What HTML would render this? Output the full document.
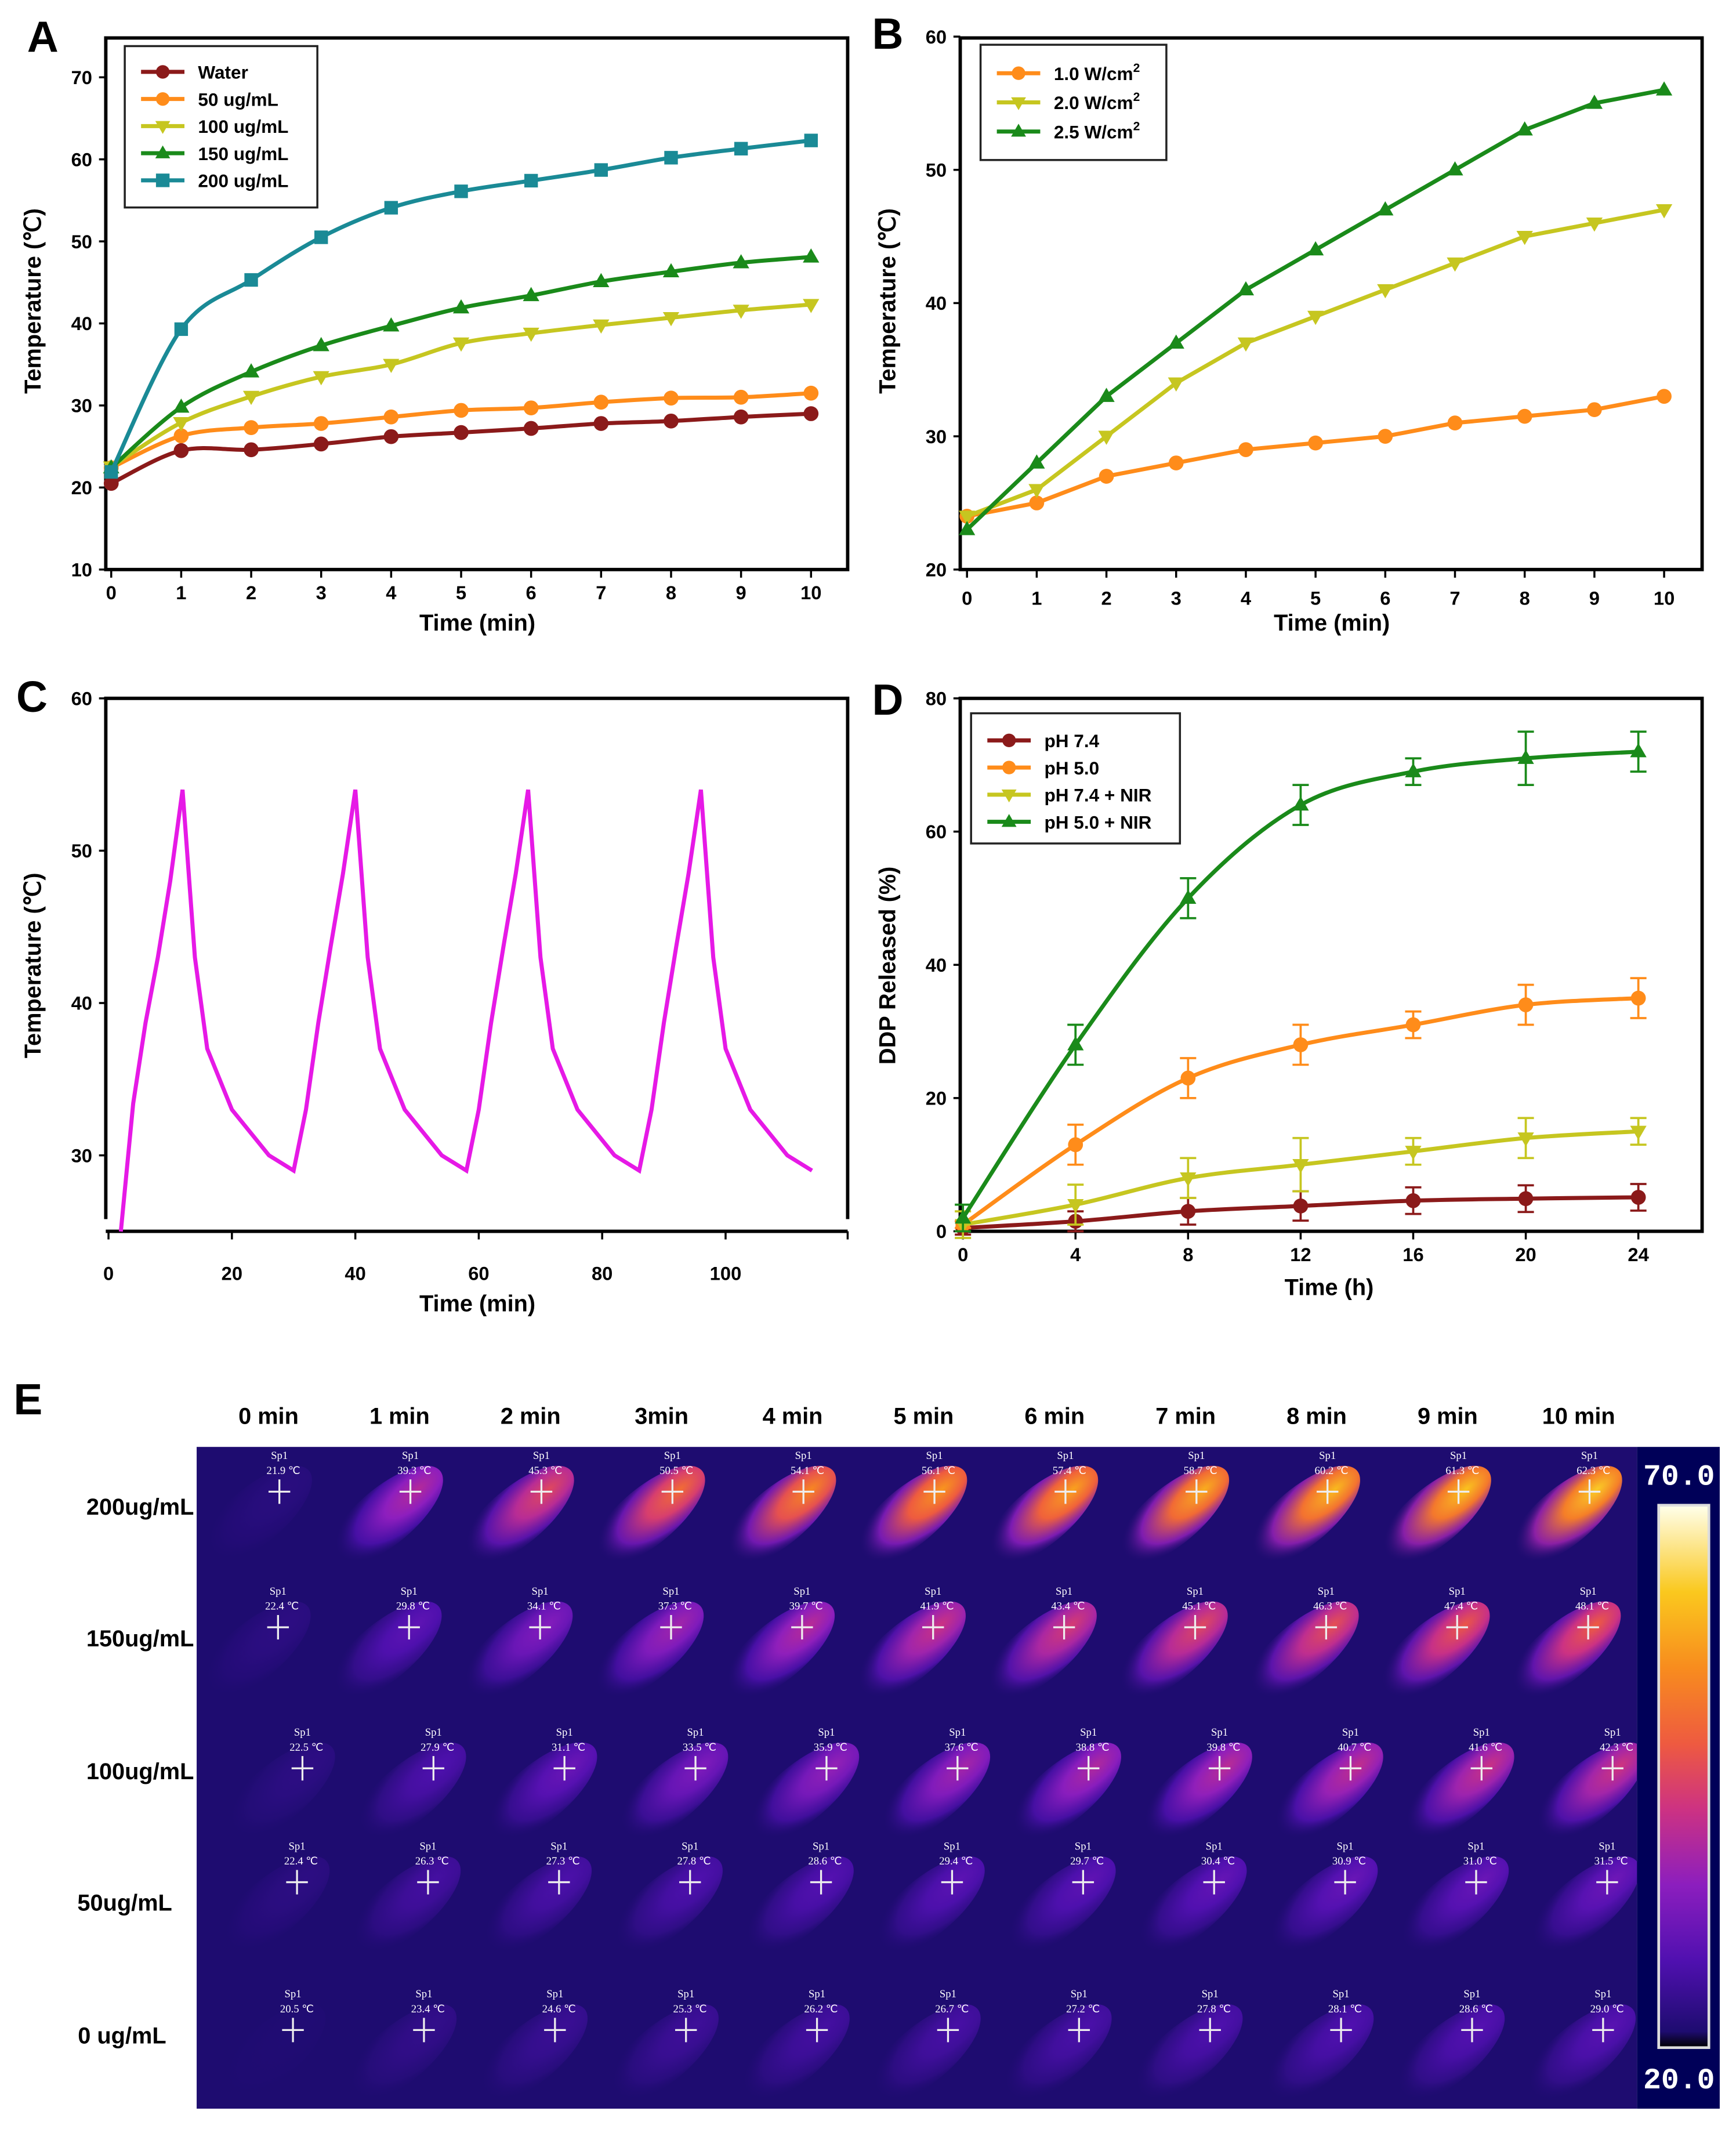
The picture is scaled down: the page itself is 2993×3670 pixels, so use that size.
<!DOCTYPE html>
<html><head><meta charset="utf-8">
<style>
html,body{margin:0;padding:0;background:#fff;}
svg{display:block;font-family:"Liberation Sans",Arial,sans-serif;}
.tick{font-size:14px;font-weight:bold;}
.atitle{font-size:17px;font-weight:bold;}
.leg{font-size:13.5px;font-weight:bold;}
.plab{font-size:32px;font-weight:bold;}
.therm{font-family:"Liberation Serif",serif;font-size:8px;fill:#fff;}
</style></head>
<body>
<svg id="fig" width="2993" height="3670" viewBox="0 0 1280 1570" preserveAspectRatio="none" xmlns="http://www.w3.org/2000/svg">
<defs id="defs"><clipPath id="imgclip"><rect x="145" y="1067" width="1062" height="488"/></clipPath></defs>
<g id="root"></g>
</svg>
<script>
// ---- Panel A data ----
const aTimes=[0,1,2,3,4,5,6,7,8,9,10];
const aWater=[20.5,24.5,24.6,25.3,26.2,26.7,27.2,27.8,28.1,28.6,29.0];
const a50=[22.4,26.3,27.3,27.8,28.6,29.4,29.7,30.4,30.9,31.0,31.5];
const a100=[22.5,27.9,31.1,33.5,35.0,37.6,38.8,39.8,40.7,41.6,42.3];
const a150=[22.4,29.8,34.1,37.3,39.7,41.9,43.4,45.1,46.3,47.4,48.1];
const a200=[21.9,39.3,45.3,50.5,54.1,56.1,57.4,58.7,60.2,61.3,62.3];
const aYTicks=[10,20,30,40,50,60,70];
// ---- Panel B data ----
const bTimes=[0,1,2,3,4,5,6,7,8,9,10];
const b10=[24,25,27,28,29,29.5,30,31,31.5,32,33];
const b20=[24,26,30,34,37,39,41,43,45,46,47];
const b25=[23,28,33,37,41,44,47,50,53,55,56];
const bYTicks=[20,30,40,50,60];
// ---- Panel C data ----
const cTimes=[2,4,6,8,10,12,14,16,20,26,30,32,34,36,38,40,42,44,48,54,58,60,62,64,66,68,70,72,76,82,86,88,90,92,94,96,98,100,104,110,114];
const cTemps=[25,33.4,38.7,43,48,54,43,37,33,30,29,33,38.7,43.7,48.5,54,43,37,33,30,29,33,38.7,43.7,48.5,54,43,37,33,30,29,33,38.7,43.7,48.5,54,43,37,33,30,29];
const cYTicks=[30,40,50,60];
const cXTicks=[0,20,40,60,80,100];
// ---- Panel D data ----
const dTimes=[0,4,8,12,16,20,24];
const d74=[0.5,1.5,3,3.8,4.6,4.9,5.1];
const d74Err=[1,1.5,2,2.2,2,2,2];
const d50=[1,13,23,28,31,34,35];
const d50Err=[0.5,3,3,3,2,3,3];
const d74n=[1,4,8,10,12,14,15];
const d74nErr=[2,3,3,4,2,3,2];
const d50n=[2,28,50,64,69,71,72];
const d50nErr=[2,3,3,3,2,4,3];
const dYTicks=[0,20,40,60,80];
const dXTicks=[0,4,8,12,16,20,24];
// ---- Panel E data ----
const eCols=['0 min','1 min','2 min','3min','4 min','5 min','6 min','7 min','8 min','9 min','10 min'];
const eRows=['200ug/mL','150ug/mL','100ug/mL','50ug/mL','0 ug/mL'];
const eT200=[21.9,39.3,45.3,50.5,54.1,56.1,57.4,58.7,60.2,61.3,62.3];
const eT150=[22.4,29.8,34.1,37.3,39.7,41.9,43.4,45.1,46.3,47.4,48.1];
const eT100=[22.5,27.9,31.1,33.5,35.9,37.6,38.8,39.8,40.7,41.6,42.3];
const eT50=[22.4,26.3,27.3,27.8,28.6,29.4,29.7,30.4,30.9,31.0,31.5];
const eT0=[20.5,23.4,24.6,25.3,26.2,26.7,27.2,27.8,28.1,28.6,29.0];

const NS='http://www.w3.org/2000/svg';
const root=document.getElementById('root');
const defs=document.getElementById('defs');
function mk(tag,attrs,parent,text){const e=document.createElementNS(NS,tag);for(const k in attrs)e.setAttribute(k,attrs[k]);if(text!==undefined)e.textContent=text;(parent||root).appendChild(e);return e;}
function lin(d0,d1,r0,r1){return v=>r0+(v-d0)/(d1-d0)*(r1-r0);}
function smooth(pts){let d='M'+pts[0][0]+','+pts[0][1];for(let i=0;i<pts.length-1;i++){const p0=pts[i-1]||pts[i],p1=pts[i],p2=pts[i+1],p3=pts[i+2]||p2;const c1=[p1[0]+(p2[0]-p0[0])/6,p1[1]+(p2[1]-p0[1])/6],c2=[p2[0]-(p3[0]-p1[0])/6,p2[1]-(p3[1]-p1[1])/6];d+=' C'+c1[0]+','+c1[1]+' '+c2[0]+','+c2[1]+' '+p2[0]+','+p2[1];}return d;}
function straight(pts){return 'M'+pts.map(p=>p[0]+','+p[1]).join(' L');}
function marker(g,type,x,y,c,s){
  let e;
  if(type==='circle'){e=mk('circle',{cx:x,cy:y,r:s,fill:c},g);}
  else if(type==='square'){e=mk('rect',{x:x-s,y:y-s,width:2*s,height:2*s,fill:c},g);}
  else if(type==='up'){e=mk('polygon',{points:`${x},${y-s*1.15} ${x-s*1.1},${y+s*0.75} ${x+s*1.1},${y+s*0.75}`,fill:c},g);}
  else {e=mk('polygon',{points:`${x},${y+s*1.15} ${x-s*1.1},${y-s*0.75} ${x+s*1.1},${y-s*0.75}`,fill:c},g);}
  
  
}
function series(g,name,xs,ys,X,Y,c,type,sm,errs){
  const sg=mk('g',{},g);
  
  
  const pts=xs.map((x,i)=>[X(x),Y(ys[i])]);
  mk('path',{d:sm?smooth(pts):straight(pts),fill:'none',stroke:c,'stroke-width':3},sg);
  if(errs){xs.forEach((x,i)=>{const px=X(x),t=Y(ys[i]+errs[i]),b=Y(ys[i]-errs[i]);const eb=mk('path',{d:`M${px},${t} L${px},${b} M${px-6},${t} L${px+6},${t} M${px-6},${b} L${px+6},${b}`,stroke:c,'stroke-width':1.6,fill:'none'},sg);});}
  if(type)pts.forEach(p=>marker(sg,type,p[0],p[1],c,type==='square'?5:5.5));
}
function legend(g,x,y,w,h,items,y0,dy){
  const lg=mk('g',{},g);
  
  
  mk('rect',{x:x,y:y,width:w,height:h,fill:'#fff',stroke:'#222','stroke-width':1.5},lg);
  items.forEach((it,i)=>{const yy=y0+i*dy;
    const le=mk('g',{},lg);
    
    
    mk('line',{x1:x+12,x2:x+44,y1:yy,y2:yy,stroke:it.c,'stroke-width':3},le);
    marker(le,it.m,x+28,yy,it.c,5);
    const t=mk('text',{x:x+54,y:yy+5,class:'leg'},le);
    t.textContent=it.t;
    if(it.sup){mk('tspan',{dy:-6,'font-size':9},t,'2');}
  });
}
function axesBox(g,L,T,R,B){mk('rect',{x:L,y:T,width:R-L,height:B-T,fill:'none',stroke:'#000','stroke-width':2.5},g);}
function yTicks(g,ticks,Y,L){ticks.forEach(v=>{mk('line',{x1:L-5,x2:L,y1:Y(v),y2:Y(v),stroke:'#000','stroke-width':1.5},g);const t=mk('text',{x:L-10,y:Y(v)+5,'text-anchor':'end',class:'tick'},g,String(v));});}
function xTicks(g,ticks,X,B,ly){ticks.forEach(v=>{mk('line',{x1:X(v),x2:X(v),y1:B,y2:B+6,stroke:'#000','stroke-width':1.5},g);const t=mk('text',{x:X(v),y:ly,'text-anchor':'middle',class:'tick'},g,String(v));});}
function titles(g,letter,lx,ly,xt,xtx,xty,yt,ytx,yty){
  let e=mk('text',{x:lx,y:ly,class:'plab'},g,letter);
  e=mk('text',{x:xtx,y:xty,'text-anchor':'middle',class:'atitle'},g,xt);
  e=mk('text',{x:ytx,y:yty,'text-anchor':'middle',class:'atitle',transform:`rotate(-90 ${ytx} ${yty})`},g,yt);
}
const RED='#8b1a1a',ORG='#ff8c1a',YEL='#c6c620',GRN='#1a8a1a',TEAL='#1a8a96';

// Panel A
(function(){
  const g=mk('g',{});
  const X=lin(0,10,82,598),Y=lin(10,70,420,57);
  axesBox(g,78,28,625,420);
  yTicks(g,aYTicks,Y,78);xTicks(g,aTimes,X,420,442);
  series(g,'series-water',aTimes,aWater,X,Y,RED,'circle',true);
  series(g,'series-50',aTimes,a50,X,Y,ORG,'circle',true);
  series(g,'series-100',aTimes,a100,X,Y,YEL,'down',true);
  series(g,'series-150',aTimes,a150,X,Y,GRN,'up',true);
  series(g,'series-200',aTimes,a200,X,Y,TEAL,'square',true);
  legend(g,92,34,142,119,[{t:'Water',c:RED,m:'circle'},{t:'50 ug/mL',c:ORG,m:'circle'},{t:'100 ug/mL',c:YEL,m:'down'},{t:'150 ug/mL',c:GRN,m:'up'},{t:'200 ug/mL',c:TEAL,m:'square'}],53,20);
  titles(g,'A',20,38,'Time (min)',352,465,'Temperature (℃)',30,222);
})();
// Panel B
(function(){
  const g=mk('g',{});
  const X=lin(0,10,713,1227),Y=lin(20,60,420,27);
  axesBox(g,708,28,1255,420);
  yTicks(g,bYTicks,Y,708);xTicks(g,bTimes,X,420,446);
  series(g,'series-1-0',bTimes,b10,X,Y,ORG,'circle',false);
  series(g,'series-2-0',bTimes,b20,X,Y,YEL,'down',false);
  series(g,'series-2-5',bTimes,b25,X,Y,GRN,'up',false);
  legend(g,723,33,137,85,[{t:'1.0 W/cm',c:ORG,m:'circle',sup:1},{t:'2.0 W/cm',c:YEL,m:'down',sup:1},{t:'2.5 W/cm',c:GRN,m:'up',sup:1}],54,21.5);
  titles(g,'B',643,36,'Time (min)',982,465,'Temperature (℃)',660,222);
})();
// Panel C
(function(){
  const g=mk('g',{});
  const X=lin(0,100,80,535),Y=lin(30,60,852,515);
  mk('path',{d:'M78,899 L78,515 L625,515 L625,899',fill:'none',stroke:'#000','stroke-width':2.5},g);
  mk('line',{x1:78,x2:625,y1:908,y2:908,stroke:'#000','stroke-width':2.5},g);
  mk('line',{x1:625,x2:625,y1:908,y2:914,stroke:'#000','stroke-width':1.5},g);
  yTicks(g,cYTicks,Y,78);xTicks(g,cXTicks,X,908,944);
  series(g,'series-cycling',cTimes,cTemps,X,Y,'#e619e6',null,false);
  titles(g,'C',12,525,'Time (min)',352,967,'Temperature (℃)',30,712);
})();
// Panel D
(function(){
  const g=mk('g',{});
  const X=lin(0,24,710,1208),Y=lin(0,80,908,515);
  axesBox(g,708,515,1255,908);
  yTicks(g,dYTicks,Y,708);xTicks(g,dXTicks,X,908,930);
  series(g,'series-ph74',dTimes,d74,X,Y,RED,'circle',true,d74Err);
  series(g,'series-ph50',dTimes,d50,X,Y,ORG,'circle',true,d50Err);
  series(g,'series-ph74-nir',dTimes,d74n,X,Y,YEL,'down',true,d74nErr);
  series(g,'series-ph50-nir',dTimes,d50n,X,Y,GRN,'up',true,d50nErr);
  legend(g,716,526,154,96,[{t:'pH 7.4',c:RED,m:'circle'},{t:'pH 5.0',c:ORG,m:'circle'},{t:'pH 7.4 + NIR',c:YEL,m:'down'},{t:'pH 5.0 + NIR',c:GRN,m:'up'}],546,20);
  titles(g,'D',643,527,'Time (h)',980,955,'DDP Released (%)',660,712);
})();
// Panel E
(function(){
  const g=mk('g',{});
  let e=mk('text',{x:10,y:1043,class:'plab'},g,'E');
  const BG='#1e0c70';
  mk('rect',{x:145,y:1067,width:1062,height:488,fill:BG},g);
  const img=mk('g',{'clip-path':'url(#imgclip)'},g);
  
  
  const cmap=[[20,[30,12,112]],[28,[80,16,176]],[35,[140,30,190]],[42,[205,50,130]],[48,[238,90,64]],[55,[248,140,30]],[62,[250,200,30]],[70,[255,255,235]]];
  function col(T){T=Math.max(20,Math.min(70,T));for(let i=0;i<cmap.length-1;i++){if(T<=cmap[i+1][0]){const f=(T-cmap[i][0])/(cmap[i+1][0]-cmap[i][0]);const a=cmap[i][1],b=cmap[i+1][1];return `rgb(${a.map((v,k)=>Math.round(v+(b[k]-v)*f)).join(',')})`;}}return 'rgb(255,255,235)';}
  const cw=96.6;
  eCols.forEach((c,i)=>{const t=mk('text',{x:198+i*cw,y:1050,'text-anchor':'middle',class:'atitle','font-size':'19'},g,c);});
  const rowsT=[eT200,eT150,eT100,eT50,eT0];
  const rowX=[206,205,223,219,216],rowY=[1100,1200,1304,1388,1497],labY=[1117,1214,1312,1409,1507];
  eRows.forEach((r,ri)=>{
    const t=mk('text',{x:ri===3?92:(ri===4?90:143),y:labY[ri],'text-anchor':ri>=3?'middle':'end',class:'atitle','font-size':'20'},g,r);
    
    rowsT[ri].forEach((T,ci)=>{
      const cx=rowX[ri]+ci*cw,cy=rowY[ri];
      const id='gr'+ri+'_'+ci;
      const gr=mk('radialGradient',{id:id,cx:'0.68',cy:'0.5',r:'0.62',fx:'0.8',fy:'0.5'},defs);
      mk('stop',{offset:'0','stop-color':col(T)},gr);
      mk('stop',{offset:'0.4','stop-color':col(20+(T-20)*0.78)},gr);
      mk('stop',{offset:'0.75','stop-color':col(20+(T-20)*0.4),'stop-opacity':'0.85'},gr);
      mk('stop',{offset:'1','stop-color':BG,'stop-opacity':'0'},gr);
      const cell=mk('g',{},img);
      
      
      const ex=cx-18,ey=cy+18;
      mk('ellipse',{cx:ex,cy:ey,rx:52,ry:21,fill:`url(#${id})`,transform:`rotate(-40 ${ex} ${ey})`},cell);
      mk('text',{x:cx,y:cy-24,'text-anchor':'middle',class:'therm'},cell,'Sp1');
      mk('text',{x:cx+3,y:cy-13,'text-anchor':'middle',class:'therm'},cell,T.toFixed(1)+' ℃');
      mk('path',{d:`M${cx-8},${cy} L${cx+8},${cy} M${cx},${cy-9} L${cx},${cy+9}`,stroke:'#eee','stroke-width':1.4},cell);
    });
  });
  // colorbar
  const cb=mk('g',{},g);
  mk('rect',{x:1207,y:1067,width:61,height:488,fill:'#000058'},cb);
  const lg=mk('linearGradient',{id:'cbar',x1:'0',y1:'1',x2:'0',y2:'0'},defs);
  mk('stop',{offset:'0','stop-color':'#000'},lg);
  cmap.forEach(s=>mk('stop',{offset:Math.max(0.03,(s[0]-20)/50).toFixed(3),'stop-color':col(s[0])},lg));
  mk('rect',{x:1223,y:1110,width:37,height:400,fill:'url(#cbar)',stroke:'#ddd','stroke-width':2},cb);
  mk('text',{x:1238,y:1095,'text-anchor':'middle','font-family':'Liberation Mono, monospace','font-size':'22','font-weight':'bold',fill:'#fff'},cb,'70.0');
  mk('text',{x:1238,y:1540,'text-anchor':'middle','font-family':'Liberation Mono, monospace','font-size':'22','font-weight':'bold',fill:'#fff'},cb,'20.0');
})();
</script>
</body></html>
